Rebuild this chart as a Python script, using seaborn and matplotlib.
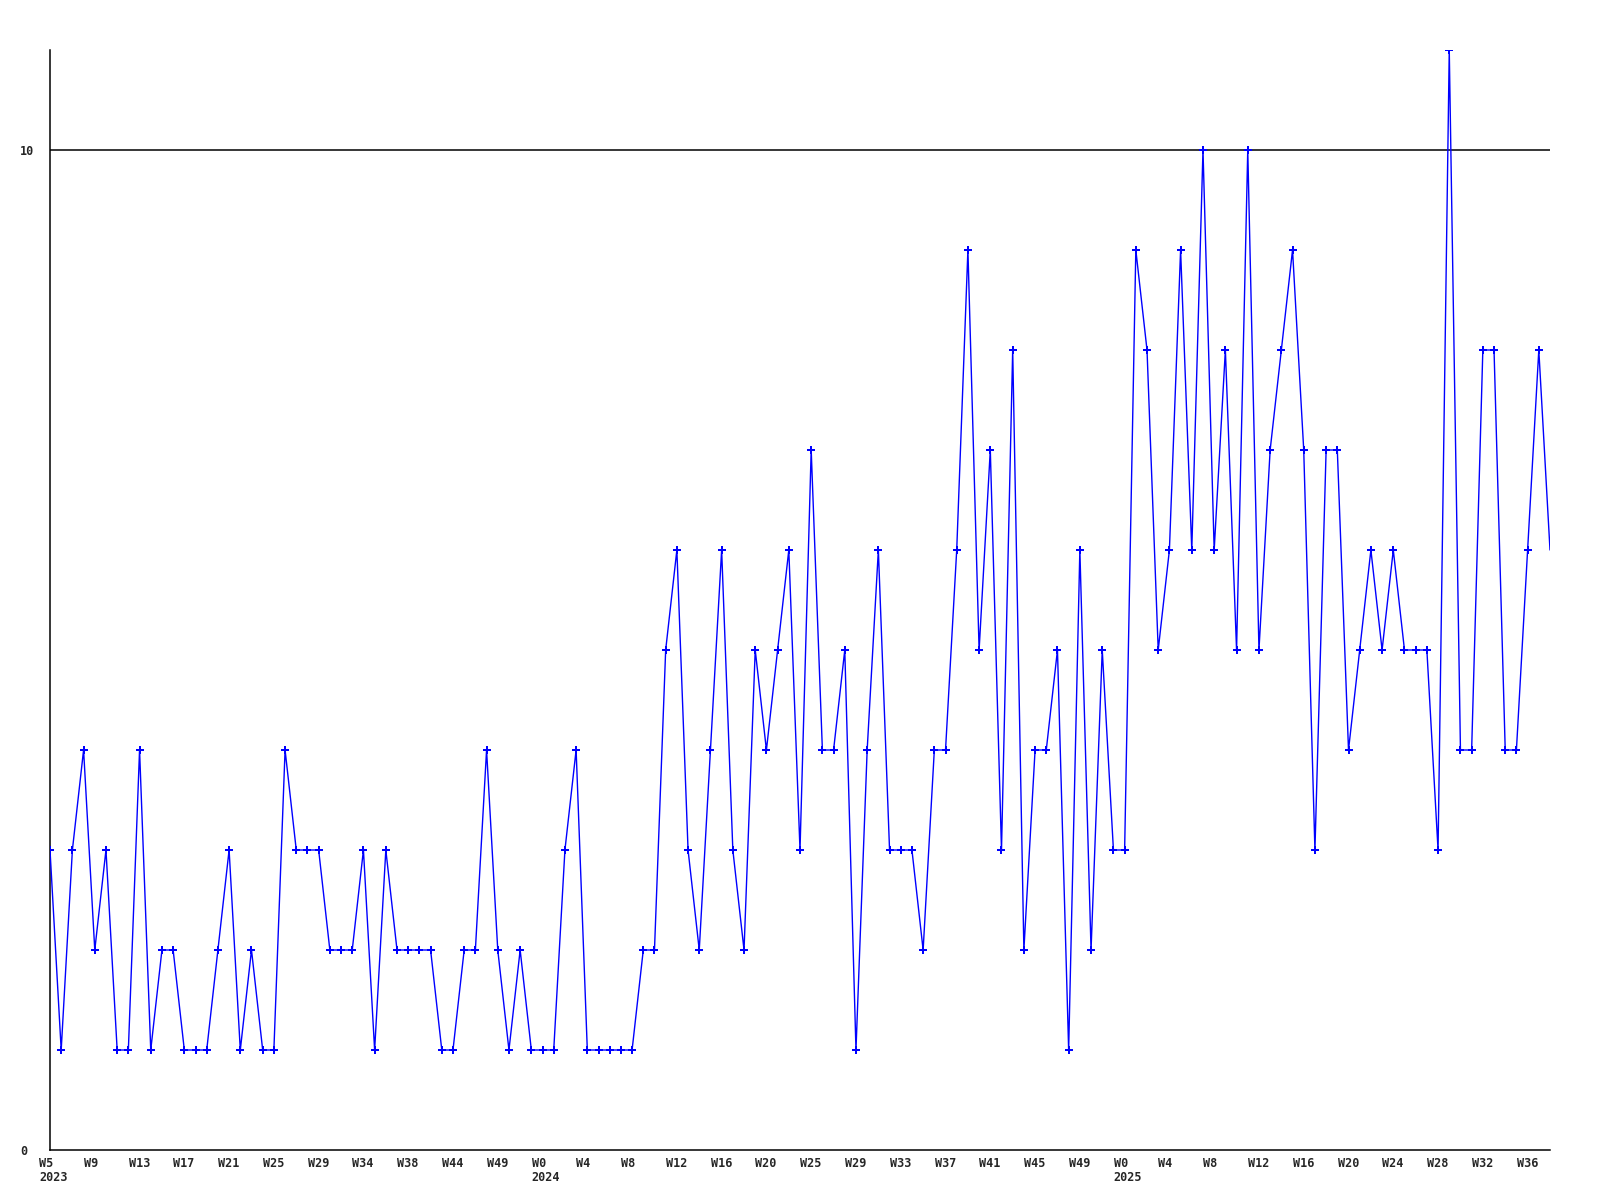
import numpy as np
import pandas as pd
import matplotlib
matplotlib.use('Agg')
import matplotlib.pyplot as plt
import matplotlib.transforms as mtransforms
import seaborn as sns

# weekly counts, one value per row of the source table
counts = [
    3, 1, 3, 4, 2, 3, 1, 1, 4, 1, 2, 2, 1, 1, 1, 2, 3, 1, 2, 1, 1, 4, 3, 3, 3, 2, 2, 2, 3, 1, 3, 2,
    2, 2, 2, 1, 1, 2, 2, 4, 2, 1, 2, 1, 1, 1, 3, 4, 1, 1, 1, 1, 1, 2, 2, 5, 6, 3, 2,
    4, 6, 3, 2, 5, 4, 5, 6, 3, 7, 4, 4, 5, 1, 4, 6, 3, 3, 3, 2, 4, 4, 6, 9, 5,
    7, 3, 8, 2, 4, 4, 5, 1, 6, 2, 5, 3, 3, 9, 8, 5, 6, 9, 6, 10, 6, 8, 5, 10, 5, 7, 8,
    9, 7, 3, 7, 7, 4, 5, 6, 5, 6, 5, 5, 5, 3, 11, 4, 4, 8, 8, 4, 4, 6, 8, 6,
]

# x labels shown every 4th row
weeks_2023 = ['W5', 'W9', 'W13', 'W17', 'W21', 'W25', 'W29', 'W34', 'W38', 'W44', 'W49']
weeks_2024 = ['W0', 'W4', 'W8', 'W12', 'W16', 'W20', 'W25', 'W29', 'W33', 'W37', 'W41', 'W45', 'W49']
weeks_2025 = ['W0', 'W4', 'W8', 'W12', 'W16', 'W20', 'W24', 'W28', 'W32', 'W36']
years = ['2023', '2024', '2025']
label_step = 4

y_ticks = [0, 10]

df = pd.DataFrame({'row': np.arange(len(counts)), 'count': counts})

tick_labels = []
for yr, wk in zip(years, [weeks_2023, weeks_2024, weeks_2025]):
    for j, w in enumerate(wk):
        tick_labels.append(w + '\n' + yr if j == 0 else w)
tick_pos = np.arange(len(tick_labels)) * label_step

sns.set_style('white')
plt.rcParams['font.family'] = ['DejaVu Sans Mono']

fig = plt.figure(figsize=(16, 12), dpi=100)
ax = fig.add_axes([50 / 1600, 50 / 1200, 1500 / 1600, 1100 / 1200])

ax.axhline(10, color='black', lw=1.1, zorder=1)

n = len(counts)
sns.lineplot(data=df, x='row', y='count', ax=ax, color='#0000ff', lw=1.0,
             marker='P', markersize=5.5, markeredgewidth=0, markevery=list(range(n - 1)),
             zorder=3)

ax.set_xlim(0, n - 1)
ax.set_ylim(0, 11)

# week labels: left edge ~10 px before the point, just under the axis
ax.set_xticks([])
offset = mtransforms.ScaledTranslation(-11 / 100, -7 / 100, fig.dpi_scale_trans)
trans = ax.get_xaxis_transform() + offset
for pos, lab in zip(tick_pos, tick_labels):
    ax.text(pos, 0, lab, transform=trans, ha='left', va='top', fontsize=8.5,
            fontweight='bold', linespacing=1.1, clip_on=False)

ax.set_yticks(y_ticks)
ax.set_yticklabels([str(v) for v in y_ticks], fontsize=8.5, fontweight='bold')
for lab in ax.get_yticklabels():
    lab.set_horizontalalignment('left')
ax.tick_params(axis='y', length=0, pad=21.5)

ax.set_xlabel('')
ax.set_ylabel('')
for side in ['top', 'right']:
    ax.spines[side].set_visible(False)
for side in ['left', 'bottom']:
    ax.spines[side].set_color('black')
    ax.spines[side].set_linewidth(1.1)

fig.savefig('out.png', dpi=100)
